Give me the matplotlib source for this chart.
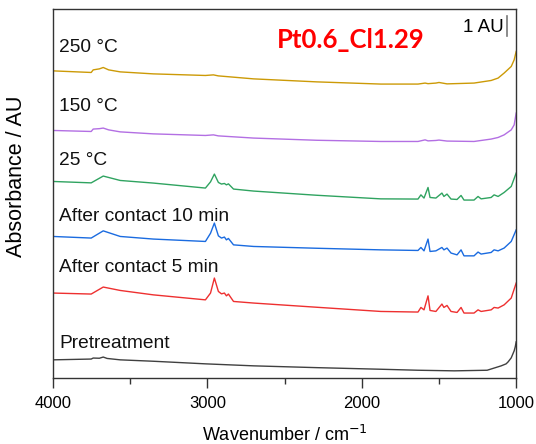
import matplotlib
matplotlib.use("Agg")
import matplotlib.pyplot as plt
from matplotlib.ticker import MultipleLocator

plt.rcParams['font.family'] = ['Liberation Sans', 'DejaVu Sans']

# wavenumbers (cm-1) and stacked absorbance (AU)
wn_ads = [4000, 3753, 3675, 3565, 3351, 3013, 2980, 2955, 2929, 2909, 2890,
          2877, 2864, 2831, 2701, 2292, 1877, 1636, 1617, 1597, 1571, 1558,
          1520, 1481, 1468, 1448, 1422, 1383, 1357, 1338, 1273, 1247, 1227,
          1162, 1143, 1117, 1078, 1032, 1000]
abs_25c = [9.82, 9.75, 10.09, 9.87, 9.74, 9.49, 9.80, 10.19, 9.77, 9.69, 9.72,
           9.65, 9.70, 9.44, 9.34, 9.13, 8.95, 8.94, 9.15, 8.99, 9.52, 9.02,
           8.99, 9.24, 9.07, 9.19, 8.94, 8.92, 9.12, 8.89, 8.89, 9.07, 8.95,
           9.02, 9.15, 9.07, 9.27, 9.57, 10.24]
abs_10min = [7.07, 6.99, 7.35, 7.07, 6.94, 6.82, 7.23, 7.74, 7.10, 6.99, 7.04,
             6.90, 6.97, 6.65, 6.57, 6.48, 6.40, 6.37, 6.52, 6.35, 6.94, 6.32,
             6.35, 6.52, 6.40, 6.49, 6.24, 6.15, 6.40, 6.10, 6.10, 6.29, 6.19,
             6.27, 6.40, 6.35, 6.49, 6.82, 7.40]
abs_5min = [4.24, 4.19, 4.54, 4.37, 4.15, 3.90, 4.24, 4.99, 4.32, 4.20, 4.24,
            4.10, 4.19, 3.82, 3.74, 3.53, 3.32, 3.29, 3.52, 3.40, 4.10, 3.37,
            3.32, 3.69, 3.52, 3.62, 3.32, 3.27, 3.52, 3.24, 3.24, 3.40, 3.32,
            3.40, 3.52, 3.49, 3.65, 3.99, 4.74]

wn_hot = [4000, 3753, 3740, 3700, 3675, 3640, 3565, 3351, 3013, 2961, 2930,
          2701, 2292, 1877, 1636, 1590, 1571, 1520, 1500, 1448, 1273, 1162,
          1117, 1078, 1032, 1013, 1000]
abs_250c = [15.35, 15.27, 15.40, 15.45, 15.52, 15.40, 15.30, 15.20, 15.12,
            15.15, 15.10, 14.95, 14.80, 14.69, 14.69, 14.74, 14.71, 14.74,
            14.77, 14.70, 14.74, 14.87, 14.99, 15.24, 15.57, 15.90, 16.32]
abs_150c = [12.37, 12.32, 12.44, 12.46, 12.49, 12.40, 12.30, 12.20, 12.12,
            12.15, 12.10, 11.99, 11.88, 11.82, 11.82, 11.90, 11.85, 11.87,
            11.89, 11.84, 11.82, 11.94, 12.02, 12.15, 12.40, 12.65, 13.24]

wn_pre = [4000, 3753, 3740, 3700, 3675, 3650, 3565, 3351, 3013, 2701, 2292,
          1877, 1636, 1400, 1188, 1097, 1065, 1052, 1032, 1013, 1006, 1000]
abs_pre = [0.90, 0.94, 0.99, 0.98, 1.04, 0.97, 0.90, 0.83, 0.70, 0.60, 0.51,
           0.43, 0.38, 0.35, 0.38, 0.60, 0.70, 0.80, 1.00, 1.35, 1.55, 1.80]

labels = ["250 °C", "150 °C", "25 °C", "After contact 10 min",
          "After contact 5 min", "Pretreatment"]
label_y = [16.5, 13.55, 10.85, 8.05, 5.5, 1.7]

fig = plt.figure(figsize=(5.36, 4.44), dpi=100)
ax = fig.add_axes([0.099, 0.149, 0.864, 0.831])

ax.plot(wn_hot, abs_250c, color="#CC9A06", lw=1.0)
ax.plot(wn_hot, abs_150c, color="#B36FE3", lw=1.0)
ax.plot(wn_ads, abs_25c, color="#2FA360", lw=1.0)
ax.plot(wn_ads, abs_10min, color="#1A6BE0", lw=1.0)
ax.plot(wn_ads, abs_5min, color="#EE3030", lw=1.0)
ax.plot(wn_pre, abs_pre, color="#404040", lw=1.0)

for txt, y in zip(labels, label_y):
    ax.text(3960, y, txt, fontsize=13.8, ha="left", va="center", color="#111111")

# title and 1 AU scale bar
ax.text(2070, 16.9, "Pt0.6_Cl1.29", color="red", fontsize=18.5,
        fontweight="bold", family=["Lato", "DejaVu Sans"], ha="center", va="center")
ax.plot([1060, 1060], [17.1, 18.1], color="#777777", lw=1.2)
ax.text(1082, 17.5, "1 AU", fontsize=13.5, ha="right", va="center")

ax.set_xlim(4000, 1000)
ax.set_ylim(0, 18.45)
ax.set_yticks([])
ax.xaxis.set_major_locator(MultipleLocator(1000))
ax.xaxis.set_minor_locator(MultipleLocator(500))
ax.tick_params(axis="x", which="major", direction="out", length=7,
               width=1, labelsize=12, color="#333333", pad=6)
ax.tick_params(axis="x", which="minor", direction="out", length=4,
               width=1, color="#333333")
for s in ax.spines.values():
    s.set_color("#333333")
    s.set_linewidth(1.0)

ax.set_xlabel("Wavenumber / cm$^{-1}$", fontsize=13, labelpad=10)
ax.set_ylabel("Absorbance / AU", fontsize=15.5)
ax.yaxis.set_label_coords(-0.056, 0.545)

fig.savefig("out.png", dpi=100)
